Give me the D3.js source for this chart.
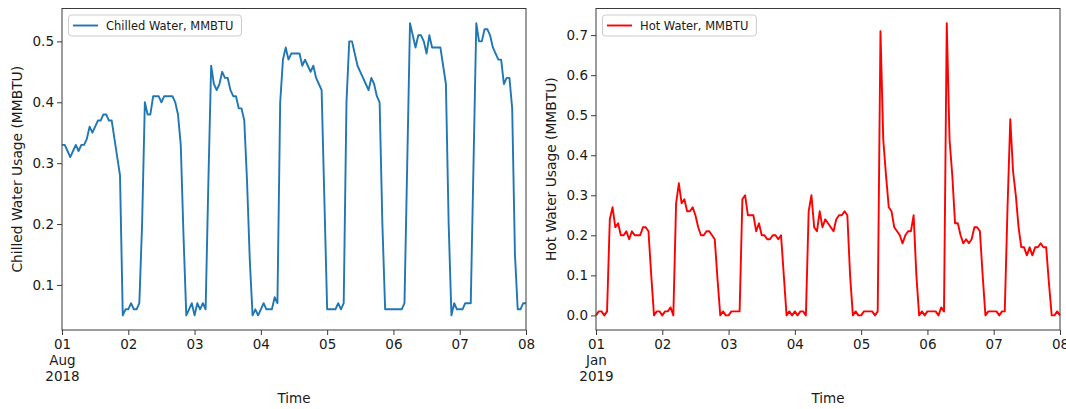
<!DOCTYPE html>
<html><head><meta charset="utf-8">
<script src="https://cdn.jsdelivr.net/npm/d3@7"></script>
<style>
body{margin:0;background:#fff;}
svg text{font-family:"DejaVu Sans",sans-serif;fill:#1a1a1a;}
</style></head><body>
<svg id="chart" width="1066" height="409"></svg>
<script>
// ---------- data ----------
const chilledStart = [2018, 7, 1];   // 1 Aug 2018, hourly readings
const hotStart = [2019, 0, 1];       // 1 Jan 2019, hourly readings
const dayTickLabels = ["01", "02", "03", "04", "05", "06", "07", "08"];
const chilledFirstTickExtra = ["Aug", "2018"];
const hotFirstTickExtra = ["Jan", "2019"];
const chilledYTicks = [0.1, 0.2, 0.3, 0.4, 0.5];
const hotYTicks = [0.0, 0.1, 0.2, 0.3, 0.4, 0.5, 0.6, 0.7];
const chilledLabel = "Chilled Water, MMBTU";
const hotLabel = "Hot Water, MMBTU";
const chilledYTitle = "Chilled Water Usage (MMBTU)";
const hotYTitle = "Hot Water Usage (MMBTU)";
const xTitle = "Time";

const chilledWater = [
  0.33,0.33,0.32,0.31,0.32,0.33,0.32,0.33,0.33,0.34,0.36,0.35,0.36,0.37,0.37,0.38,0.38,0.37,0.37,0.34,0.31,0.28,0.05,0.06,
  0.06,0.07,0.06,0.06,0.07,0.20,0.40,0.38,0.38,0.41,0.41,0.41,0.40,0.41,0.41,0.41,0.41,0.40,0.38,0.33,0.18,0.05,0.06,0.07,
  0.05,0.07,0.06,0.07,0.06,0.27,0.46,0.43,0.42,0.43,0.45,0.44,0.44,0.42,0.41,0.41,0.39,0.39,0.37,0.27,0.14,0.05,0.06,0.05,
  0.06,0.07,0.06,0.06,0.06,0.08,0.07,0.40,0.47,0.49,0.47,0.48,0.48,0.48,0.48,0.46,0.47,0.46,0.45,0.46,0.44,0.43,0.42,0.24,
  0.06,0.06,0.06,0.06,0.07,0.06,0.07,0.40,0.50,0.50,0.48,0.46,0.45,0.44,0.43,0.42,0.44,0.43,0.41,0.40,0.20,0.06,0.06,0.06,
  0.06,0.06,0.06,0.06,0.07,0.30,0.53,0.51,0.49,0.51,0.51,0.50,0.48,0.51,0.49,0.49,0.49,0.49,0.46,0.43,0.20,0.05,0.07,0.06,
  0.06,0.06,0.07,0.07,0.07,0.30,0.53,0.50,0.50,0.52,0.52,0.51,0.49,0.48,0.47,0.47,0.43,0.44,0.44,0.39,0.15,0.06,0.06,0.07,
  0.07
];

const hotWater = [
  0.00,0.01,0.01,0.00,0.01,0.24,0.27,0.22,0.23,0.20,0.20,0.21,0.19,0.21,0.20,0.20,0.20,0.22,0.22,0.21,0.10,0.00,0.01,0.01,
  0.00,0.01,0.01,0.02,0.00,0.28,0.33,0.28,0.29,0.26,0.26,0.27,0.25,0.22,0.20,0.20,0.21,0.21,0.20,0.19,0.09,0.00,0.01,0.00,
  0.00,0.01,0.01,0.01,0.01,0.29,0.30,0.25,0.25,0.25,0.21,0.23,0.20,0.20,0.19,0.19,0.20,0.20,0.19,0.20,0.10,0.00,0.01,0.00,
  0.01,0.00,0.01,0.01,0.00,0.26,0.30,0.22,0.21,0.26,0.22,0.24,0.23,0.22,0.21,0.24,0.25,0.25,0.26,0.25,0.10,0.00,0.01,0.00,
  0.00,0.01,0.01,0.01,0.01,0.00,0.01,0.71,0.44,0.35,0.27,0.26,0.22,0.21,0.20,0.18,0.20,0.21,0.21,0.25,0.10,0.00,0.01,0.00,
  0.01,0.01,0.01,0.01,0.00,0.02,0.01,0.73,0.44,0.35,0.23,0.23,0.20,0.18,0.19,0.18,0.19,0.22,0.22,0.21,0.10,0.00,0.01,0.01,
  0.01,0.01,0.00,0.01,0.01,0.27,0.49,0.36,0.30,0.22,0.17,0.17,0.15,0.17,0.15,0.17,0.17,0.18,0.17,0.17,0.08,0.00,0.00,0.01,
  0.00
];

// ---------- drawing ----------
const svg = d3.select("#chart");

function drawPanel(cfg) {
  const g = svg.append("g");
  const start = new Date(cfg.start[0], cfg.start[1], cfg.start[2]);
  const dates = cfg.values.map((v, i) => d3.timeHour.offset(start, i));
  const x = d3.scaleTime().domain([dates[0], dates[dates.length - 1]]).range([cfg.x0, cfg.x1]);
  const [mn, mx] = d3.extent(cfg.values);
  const pad = (mx - mn) * 0.05;
  const y = d3.scaleLinear().domain([mn - pad, mx + pad]).range([cfg.y1, cfg.y0]);

  // line
  g.append("path")
    .datum(cfg.values)
    .attr("d", d3.line().x((d, i) => x(dates[i])).y(d => y(d)))
    .attr("fill", "none")
    .attr("stroke", cfg.color)
    .attr("stroke-width", 1.9)
    .attr("stroke-linejoin", "round");

  // frame
  g.append("rect")
    .attr("x", cfg.x0).attr("y", cfg.y0)
    .attr("width", cfg.x1 - cfg.x0).attr("height", cfg.y1 - cfg.y0)
    .attr("fill", "none").attr("stroke", "#3a3a3a").attr("stroke-width", 1);

  // x axis
  const tickDates = dayTickLabels.map((t, i) => d3.timeDay.offset(start, i));
  const xa = g.append("g")
    .attr("transform", `translate(0,${cfg.y1})`)
    .call(d3.axisBottom(x).tickValues(tickDates)
      .tickFormat((d, i) => dayTickLabels[i]).tickSize(5).tickPadding(4));
  xa.select(".domain").remove();
  xa.selectAll("line").attr("stroke", "#3a3a3a");
  xa.selectAll("text").attr("font-size", "13.5px").attr("font-family", "DejaVu Sans").attr("fill", "#1a1a1a");
  const first = xa.select(".tick text");
  cfg.firstExtra.forEach(s => {
    first.append("tspan").attr("x", 0).attr("dy", "1.2em").text(s);
  });

  // y axis
  const ya = g.append("g")
    .attr("transform", `translate(${cfg.x0},0)`)
    .call(d3.axisLeft(y).tickValues(cfg.yTicks).tickFormat(d3.format(".1f")).tickSize(5).tickPadding(3));
  ya.select(".domain").remove();
  ya.selectAll("line").attr("stroke", "#3a3a3a");
  ya.selectAll("text").attr("font-size", "13.5px").attr("font-family", "DejaVu Sans").attr("fill", "#1a1a1a");

  // axis titles
  g.append("text")
    .attr("transform", `translate(${cfg.x0 - 45},${(cfg.y0 + cfg.y1) / 2}) rotate(-90)`)
    .attr("text-anchor", "middle").attr("dy", "0.35em")
    .attr("font-size", "13.8px")
    .text(cfg.yTitle);
  g.append("text")
    .attr("x", (cfg.x0 + cfg.x1) / 2).attr("y", 403)
    .attr("text-anchor", "middle")
    .attr("font-size", "13.5px")
    .text(xTitle);

  // legend
  const lg = g.append("g");
  const box = lg.append("rect")
    .attr("x", cfg.x0 + 6.5).attr("y", 15).attr("height", 21).attr("rx", 3)
    .attr("fill", "#fff").attr("fill-opacity", 0.85)
    .attr("stroke", "#cccccc").attr("stroke-width", 1);
  lg.append("line")
    .attr("x1", cfg.x0 + 11).attr("x2", cfg.x0 + 36)
    .attr("y1", 25.5).attr("y2", 25.5)
    .attr("stroke", cfg.color).attr("stroke-width", 1.9);
  const lt = lg.append("text")
    .attr("x", cfg.x0 + 44).attr("y", 25.5).attr("dy", "0.36em")
    .attr("font-size", "11.5px")
    .text(cfg.label);
  const tw = lt.node().getComputedTextLength();
  box.attr("width", (cfg.x0 + 44 + tw + 8) - (cfg.x0 + 6.5));
}

drawPanel({
  start: chilledStart, values: chilledWater, color: "#1f77b4",
  x0: 62, x1: 526, y0: 8.5, y1: 330,
  yTicks: chilledYTicks, yTitle: chilledYTitle, label: chilledLabel,
  firstExtra: chilledFirstTickExtra
});
drawPanel({
  start: hotStart, values: hotWater, color: "#ff0000",
  x0: 596, x1: 1060, y0: 8.5, y1: 330,
  yTicks: hotYTicks, yTitle: hotYTitle, label: hotLabel,
  firstExtra: hotFirstTickExtra
});
</script>
</body></html>
